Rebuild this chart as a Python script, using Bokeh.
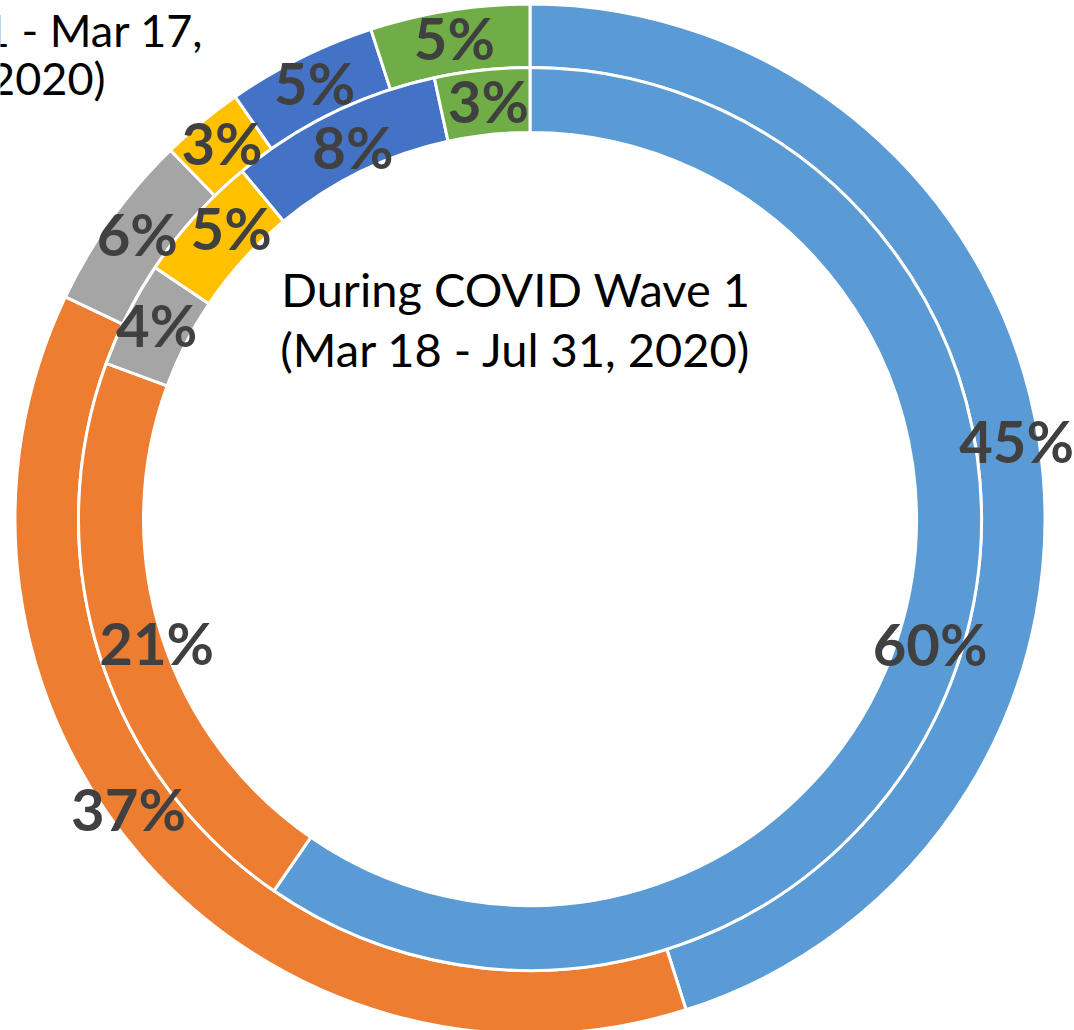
import math
from bokeh.plotting import figure
from bokeh.models import Range1d, ColumnDataSource
from bokeh.core.properties import value
from bokeh.embed import file_html
from bokeh.resources import INLINE

# ---- data (percent shares, clockwise from 12 o'clock) ----
categories = ["Cat 1", "Cat 2", "Cat 3", "Cat 4", "Cat 5", "Cat 6"]
outer_values = [45.1, 37.0, 5.6, 2.6, 4.7, 5.0]   # Before COVID (... - Mar 17, 2020)
inner_values = [59.6, 21.0, 3.8, 4.6, 7.6, 3.4]   # During COVID Wave 1 (Mar 18 - Jul 31, 2020)
colors = ["#5B9BD5", "#ED7D31", "#A5A5A5", "#FFC000", "#4472C4", "#70AD47"]
outer_title = ["(Jan 1 - Mar 17,", "2020)"]
inner_title = ["During COVID Wave 1", "(Mar 18 - Jul 31, 2020)"]

# label nudges in screen px (Excel label placement)
outer_nudge = [(9, -4), (-37, -28), (0, -4), (0, -4), (0, -4), (0, -4)]
inner_nudge = [(0, 0), (26, -3), (0, -4), (12, -10), (6, 4), (3, -2)]

W, H = 1074, 1030
CX, CY = 529.5, 518.5   # donut centre in page pixels
p = figure(width=W, height=H, output_backend="svg", toolbar_location=None,
           x_range=Range1d(-CX, W - CX), y_range=Range1d(-(H - CY), CY),
           x_axis_type=None, y_axis_type=None, min_border=0)
p.grid.visible = False
p.outline_line_color = None
p.background_fill_color = "white"
p.border_fill_color = "white"

LW = 3


def ring(vals, r_in, r_out, nudge):
    total = sum(vals)
    starts, ends, mids = [], [], []
    cum = 0.0
    for v in vals:
        a0 = math.pi / 2 - 2 * math.pi * cum / total
        cum += v
        a1 = math.pi / 2 - 2 * math.pi * cum / total
        starts.append(a0)
        ends.append(a1)
        mids.append((a0 + a1) / 2)
    src = ColumnDataSource(dict(start=starts, end=ends, color=colors,
                                cat=categories, val=vals))
    p.annular_wedge(x=0, y=0, inner_radius=r_in, outer_radius=r_out,
                    start_angle="start", end_angle="end", direction="clock",
                    fill_color="color", line_color="white", line_width=LW,
                    source=src)
    rm = (r_in + r_out) / 2
    return ColumnDataSource(dict(
        x=[rm * math.cos(m) for m in mids],
        y=[rm * math.sin(m) for m in mids],
        t=[f"{v:.0f}%" for v in vals],
        dx=[n[0] for n in nudge],
        dy=[n[1] for n in nudge]))


labels = [ring(outer_values, 451.5, 513.5 + LW / 2, outer_nudge),
          ring(inner_values, 388 - LW / 2, 451.5, inner_nudge)]

for lab in labels:
    p.text(x="x", y="y", text="t", x_offset="dx", y_offset="dy", source=lab,
           text_align="center", text_baseline="middle",
           text_font=value("Lato"), text_font_style="bold",
           text_font_size="58px", text_color="#404040")

# centre caption
p.text(x=[-14, -14], y=[230, 170], text=inner_title,
       text_align="center", text_baseline="alphabetic",
       text_font=value("Lato"), text_font_size="47px", text_color="black")

# outer-ring caption (partly outside the chart area on the left)
p.text(x=[-326.5, -424.5], y=[489.5, 441.5], text=outer_title,
       text_align="right", text_baseline="alphabetic",
       text_font=value("Lato"), text_font_size="45px", text_color="black")

open("out.html", "w").write(file_html(p, INLINE))
